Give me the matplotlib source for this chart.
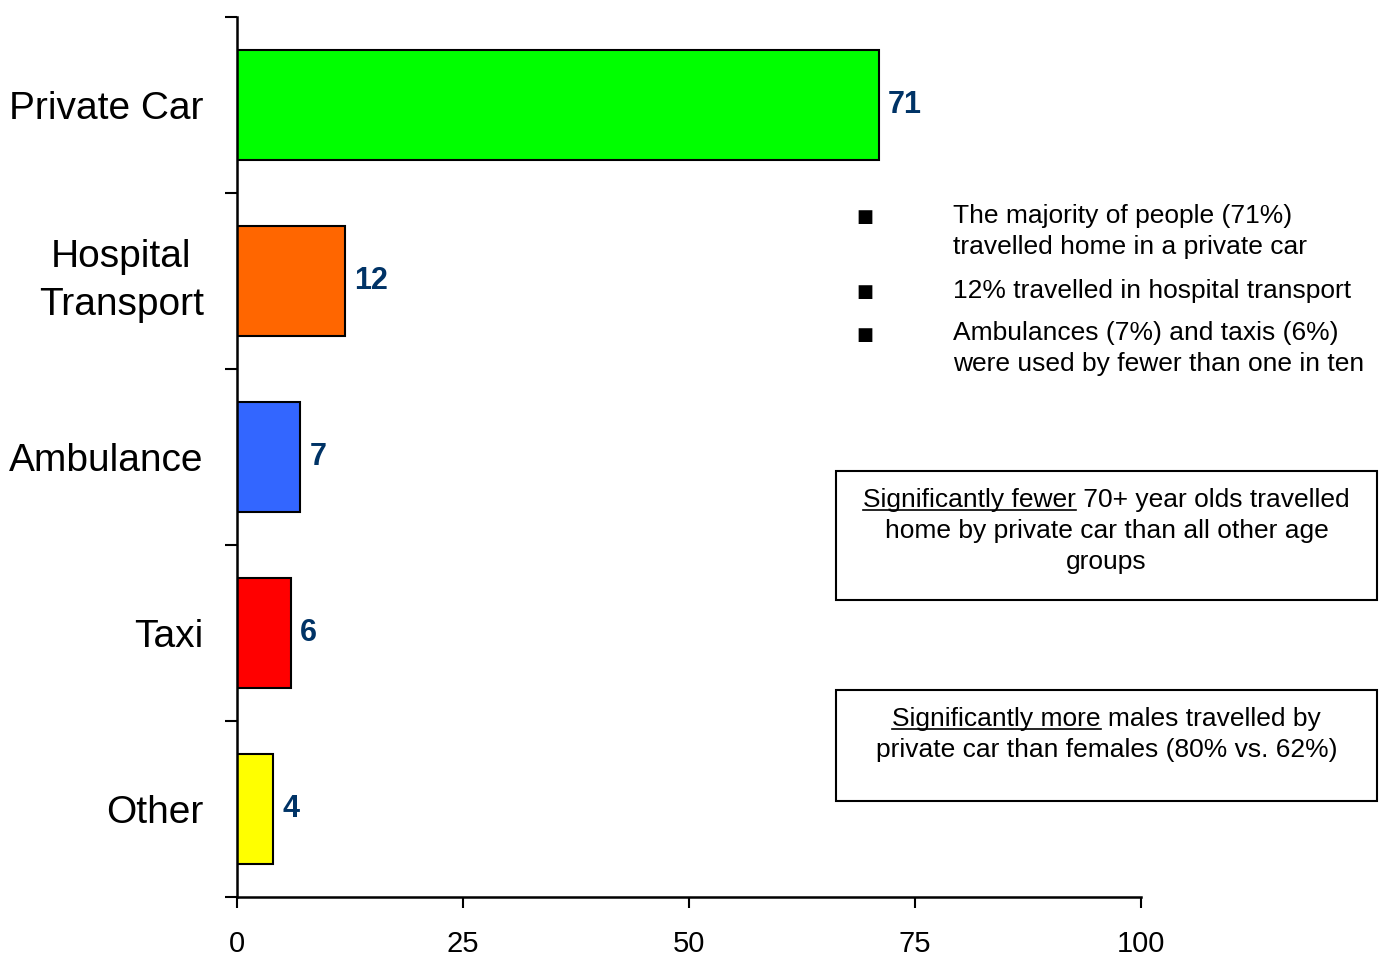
import numpy as np
import matplotlib
matplotlib.use('Agg')
import matplotlib.pyplot as plt
from matplotlib.patches import Rectangle
from matplotlib.lines import Line2D

plt.rcParams['font.family'] = ['Liberation Sans', 'DejaVu Sans']

# datos del grafico
categorias = ['Private Car', 'Hospital\nTransport', 'Ambulance', 'Taxi', 'Other']
valores = [71, 12, 7, 6, 4]
colores = ['#00FF00', '#FF6600', '#3366FF', '#FF0000', '#FFFF00']
xticks = [0, 25, 50, 75, 100]

bullets = ['The majority of people (71%)\ntravelled home in a private car',
           '12% travelled in hospital transport',
           'Ambulances (7%) and taxis (6%)\nwere used by fewer than one in ten']

W, H = 1384, 956
fig = plt.figure(figsize=(W / 100, H / 100), dpi=100)

def fx(px):
    return px / W

def fy(py):
    return 1 - py / H

ax = fig.add_axes([fx(237), fy(897), fx(1141) - fx(237), fy(17) - fy(897)])

y = np.arange(len(categorias))
ax.barh(y, valores, height=0.625, color=colores, edgecolor='black', linewidth=1.5)
for yi, v in zip(y, valores):
    ax.text(v + 1.0, yi, str(v), va='center', ha='left', fontsize=22,
            fontweight='bold', color='#003366')

ax.set_xlim(0, 100)
ax.set_ylim(len(categorias) - 0.5, -0.5)
ax.set_xticks(xticks)
ax.tick_params(axis='x', direction='out', length=8, width=1.5, labelsize=21, pad=16)
ax.set_yticks(y)
ax.set_yticklabels(categorias, fontsize=28, multialignment='center', linespacing=1.45)
for lab in ax.get_yticklabels():
    if '\n' in lab.get_text():
        lab.set_va('center')
ax.set_yticks(np.arange(-0.5, len(categorias)), minor=True)
ax.tick_params(axis='y', which='major', length=0, pad=24)
ax.tick_params(axis='y', which='minor', direction='out', length=9, width=1.5)
for s in ['top', 'right']:
    ax.spines[s].set_visible(False)
for s in ['left', 'bottom']:
    ax.spines[s].set_linewidth(1.8)

# lista de puntos a la derecha
fs = 19
for txt, yc, yb in zip(bullets, [231.5, 291, 348.5], [217, 292, 335]):
    fig.text(fx(953), fy(yc), txt, ha='left', va='center', fontsize=fs, linespacing=1.38)
    fig.text(fx(865), fy(yb), '\u25a0', ha='center', va='center', fontsize=13,
             family=['DejaVu Sans'])

# recuadros
for x0, y0, x1, y1 in [(836, 471, 1377, 600), (836, 690, 1377, 801)]:
    fig.add_artist(Rectangle((fx(x0), fy(y1)), fx(x1) - fx(x0), fy(y0) - fy(y1),
                             transform=fig.transFigure, fill=False,
                             edgecolor='black', linewidth=1.5))

renderer = fig.canvas.get_renderer()

def linea_subrayada(xc, ybase, sub, resto):
    t = fig.text(fx(xc), fy(ybase), sub + resto, ha='center', va='baseline', fontsize=fs)
    bb = t.get_window_extent(renderer)
    tmp = fig.text(0, 0, sub, fontsize=fs)
    w = tmp.get_window_extent(renderer).width
    tmp.remove()
    yl = fy(ybase + 3)
    fig.add_artist(Line2D([bb.x0 / W, (bb.x0 + w) / W], [yl, yl],
                          transform=fig.transFigure, color='black', linewidth=1.2))

xc = 1106.5
linea_subrayada(xc, 507, 'Significantly fewer', ' 70+ year olds travelled')
fig.text(fx(xc), fy(538), 'home by private car than all other age', ha='center',
         va='baseline', fontsize=fs)
fig.text(fx(xc), fy(569), 'groups', ha='center', va='baseline', fontsize=fs)

linea_subrayada(xc, 726, 'Significantly more', ' males travelled by')
fig.text(fx(xc), fy(757), 'private car than females (80% vs. 62%)', ha='center',
         va='baseline', fontsize=fs)

fig.savefig('out.png', dpi=100)
